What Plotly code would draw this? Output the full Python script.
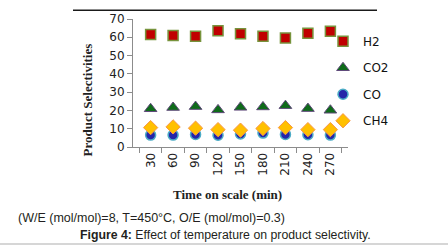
import plotly.graph_objects as go

# ---- data ----
times = ["30", "60", "90", "120", "150", "180", "210", "240", "270"]
h2 = [61.5, 61.0, 60.6, 63.6, 62.0, 60.5, 59.6, 62.2, 63.3]
co2 = [20.9, 21.6, 22.1, 20.3, 21.7, 21.9, 22.6, 21.0, 20.1]
co = [6.5, 6.5, 6.9, 6.4, 7.1, 7.6, 6.9, 6.7, 6.5]
ch4 = [10.6, 11.0, 10.3, 9.5, 9.2, 10.1, 10.6, 9.5, 9.5]

W, H = 448, 249
L, R, T, B = 133, 100, 15, 102
PW, PH = W - L - R, H - T - B


def px(x):
    return (x - L) / PW


def py(y):
    return (H - B - y) / PH


fig = go.Figure()
fig.add_trace(go.Scatter(x=times, y=h2, name="H2", mode="markers",
                         marker=dict(symbol="square", size=10, color="#C00000",
                                     line=dict(color="#77933C", width=1.5))))
fig.add_trace(go.Scatter(x=times, y=co2, name="CO2", mode="markers",
                         marker=dict(symbol="triangle-up", size=11, color="#0F6B1A",
                                     line=dict(color="#604A7B", width=1))))
fig.add_trace(go.Scatter(x=times, y=co, name="CO", mode="markers",
                         marker=dict(symbol="circle", size=10, color="#2626A8",
                                     line=dict(color="#4BACC6", width=1.5))))
fig.add_trace(go.Scatter(x=times, y=ch4, name="CH4", mode="markers",
                         marker=dict(symbol="diamond", size=11, color="#FFC000",
                                     line=dict(color="#F79646", width=1))))

for i, _ in enumerate(fig.data):
    fig.data[i].legendgroup = str(i)

fig.update_layout(
    width=W, height=H,
    margin=dict(l=L, r=R, t=T, b=B, pad=0),
    paper_bgcolor="white", plot_bgcolor="white",
    font=dict(family="DejaVu Sans", size=12, color="#222"),
    showlegend=True,
    legend=dict(x=px(323), y=py(23), xanchor="left", yanchor="top",
                font=dict(family="DejaVu Sans", size=12, color="#111"),
                tracegroupgap=7.5, traceorder="grouped",
                bgcolor="rgba(0,0,0,0)", itemwidth=30),
    xaxis=dict(type="category", showgrid=False, showline=True, linecolor="#8c8c8c",
               linewidth=1, ticks="outside", tickson="boundaries", ticklen=5,
               tickcolor="#8c8c8c", tickangle=-90, zeroline=False,
               tickfont=dict(family="DejaVu Sans", size=12, color="#222")),
    yaxis=dict(range=[0, 70], dtick=10, showgrid=False, showline=True,
               linecolor="#8c8c8c", linewidth=1, ticks="outside", ticklen=5,
               tickcolor="#8c8c8c", zeroline=False,
               tickfont=dict(family="DejaVu Sans", size=12, color="#222")),
)

annos = [
    dict(text="<b>Product Selectivities</b>", x=px(87), y=py(99), textangle=-90,
         font=dict(family="Liberation Serif", size=13, color="#222")),
    dict(text="<b>Time on scale (min)</b>", x=px(227.5), y=py(196),
         font=dict(family="Liberation Serif", size=13, color="#222")),
    dict(text="(W/E (mol/mol)=8, T=450°C, O/E (mol/mol)=0.3)", x=px(151), y=py(220),
         font=dict(family="Liberation Sans", size=12.5, color="#231F20")),
    dict(text="<b>Figure 4:</b> Effect of temperature on product selectivity.",
         x=px(225.5), y=py(238),
         font=dict(family="Liberation Sans", size=12.3, color="#231F20")),
]
for a in annos:
    fig.add_annotation(xref="paper", yref="paper", showarrow=False,
                       xanchor="center", yanchor="middle", **a)

fig.add_shape(type="line", xref="paper", yref="paper", x0=px(73), x1=px(377),
              y0=py(6), y1=py(6), line=dict(color="#1a1a1a", width=1.5))
fig.add_shape(type="line", xref="paper", yref="paper", x0=px(0), x1=px(448),
              y0=py(247), y1=py(247), line=dict(color="#c8c8c8", width=1.5))

fig.write_html("out.html", config={"displayModeBar": False},
               post_script="document.body.style.margin='0';document.body.style.overflow='hidden';")
